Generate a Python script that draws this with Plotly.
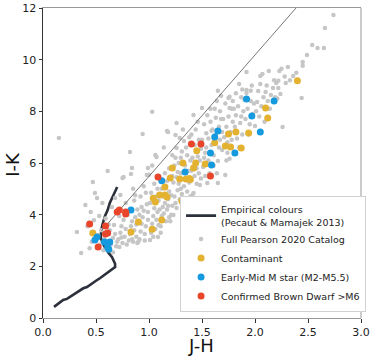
import plotly.graph_objects as go

# Empirical colour sequence (Pecaut & Mamajek 2013), J-H vs I-K
emp_jh = [0.104, 0.13, 0.16, 0.19, 0.226, 0.25, 0.283, 0.32, 0.349, 0.38, 0.415, 0.44, 0.47, 0.50,
          0.54, 0.57, 0.60, 0.63, 0.65, 0.67, 0.68, 0.68, 0.665, 0.65, 0.62, 0.60, 0.575, 0.555,
          0.545, 0.55, 0.56, 0.585, 0.61, 0.63, 0.66, 0.70]
emp_ik = [0.43, 0.52, 0.62, 0.70, 0.74, 0.80, 0.89, 0.98, 1.08, 1.15, 1.20, 1.28, 1.35, 1.44,
          1.55, 1.64, 1.74, 1.80, 1.86, 1.92, 1.97, 2.10, 2.22, 2.36, 2.51, 2.62, 2.80, 2.98,
          3.14, 3.40, 3.60, 3.95, 4.18, 4.45, 4.70, 5.07]

# reference line drawn across the diagram
ref_jh = [0.55, 2.387]
ref_ik = [3.37, 12.0]

# Full Pearson 2020 catalog
gray_pts = [
    (0.15, 6.97), (0.32, 3.33), (0.36, 2.52),
    (0.40, 4.37), (0.45, 4.10), (0.47, 5.26), (0.42, 3.55), (0.46, 2.95), (0.44, 2.70), (0.48, 3.78),
    (0.49, 4.84), (0.51, 4.65), (0.56, 4.45), (0.53, 3.95), (0.55, 3.40), (0.57, 2.62), (0.54, 2.85),
    (0.58, 3.05), (0.52, 3.20), (0.59, 3.85), (0.61, 5.69),
    (0.62, 2.70), (0.64, 2.85), (0.66, 3.10), (0.63, 3.40), (0.67, 3.60), (0.65, 4.30), (0.68, 4.65),
    (0.66, 2.55), (0.69, 2.78), (0.62, 3.62), (0.68, 3.25), (0.70, 2.95),
    (0.71, 3.05), (0.72, 2.75), (0.73, 3.30), (0.74, 3.55), (0.75, 2.90), (0.76, 3.80), (0.73, 4.76),
    (0.75, 5.42), (0.77, 3.15), (0.78, 3.45), (0.79, 2.85), (0.76, 5.46), (0.72, 3.95), (0.78, 4.45),
    (0.74, 3.12),
    (0.81, 3.00), (0.82, 3.25), (0.83, 3.55), (0.84, 3.75), (0.85, 2.95), (0.86, 3.40), (0.87, 3.90),
    (0.88, 3.15), (0.89, 4.20), (0.82, 6.43), (0.84, 5.81), (0.83, 5.57), (0.85, 5.00), (0.86, 4.55),
    (0.88, 3.62), (0.80, 4.00), (0.89, 2.90), (0.84, 3.05), (0.87, 4.75),
    (0.91, 3.05), (0.92, 3.35), (0.93, 3.65), (0.94, 3.90), (0.95, 4.15), (0.96, 3.25), (0.97, 3.55),
    (0.98, 4.40), (0.99, 3.80), (0.94, 7.12), (0.99, 5.81), (0.98, 5.54), (0.92, 4.70), (0.95, 5.10),
    (0.97, 4.85), (0.90, 2.95), (0.96, 3.00), (0.93, 4.30), (0.99, 4.10), (0.91, 4.00),
    (1.01, 3.02), (1.02, 3.30), (1.03, 3.65), (1.04, 3.95), (1.05, 4.25), (1.06, 3.45), (1.07, 3.80),
    (1.08, 4.10), (1.09, 4.55), (1.03, 7.98), (1.06, 6.31), (1.07, 6.23), (1.085, 3.14), (1.02, 4.85),
    (1.05, 5.20), (1.08, 5.00), (1.01, 4.45), (1.04, 3.15), (1.09, 3.60), (1.06, 4.70), (1.00, 5.55),
    (1.03, 5.90),
    (1.11, 3.55), (1.12, 3.95), (1.13, 4.30), (1.14, 4.05), (1.15, 4.45), (1.16, 3.75), (1.17, 4.20),
    (1.18, 4.60), (1.19, 4.90), (1.18, 7.20), (1.12, 5.00), (1.15, 5.60), (1.17, 5.30), (1.19, 3.90),
    (1.13, 4.70), (1.16, 5.10), (1.11, 3.30), (1.14, 6.60), (1.19, 5.80), (1.10, 4.20), (1.18, 4.35),
    (1.17, 7.24),
    (1.21, 4.00), (1.22, 4.35), (1.23, 3.99), (1.24, 4.70), (1.25, 4.45), (1.26, 4.26), (1.27, 4.95),
    (1.28, 5.20), (1.29, 6.97), (1.26, 6.58), (1.22, 5.50), (1.24, 5.90), (1.27, 5.65), (1.29, 4.60),
    (1.21, 4.75), (1.23, 5.25), (1.25, 6.20), (1.28, 6.00), (1.20, 3.75), (1.30, 5.00), (1.26, 5.45),
    (1.22, 6.30), (1.26, 7.55), (1.25, 7.08),
    (1.31, 4.80), (1.32, 4.26), (1.33, 5.10), (1.34, 4.57), (1.35, 5.40), (1.36, 4.90), (1.37, 5.70),
    (1.38, 5.25), (1.39, 6.10), (1.31, 6.45), (1.33, 6.85), (1.36, 6.30), (1.38, 7.00), (1.34, 5.90),
    (1.30, 5.60), (1.39, 4.70), (1.35, 6.60), (1.32, 7.30), (1.37, 4.45), (1.30, 6.20),
    (1.41, 4.76), (1.42, 4.49), (1.42, 4.84), (1.43, 5.50), (1.44, 5.95), (1.45, 5.20), (1.46, 6.25),
    (1.47, 5.60), (1.48, 5.15), (1.49, 6.55), (1.40, 7.10), (1.44, 7.30), (1.47, 6.90), (1.45, 5.80),
    (1.41, 6.20), (1.48, 6.10), (1.43, 6.70), (1.49, 5.40), (1.46, 7.60), (1.40, 5.70), (1.42, 7.86),
    (1.51, 5.85), (1.52, 6.20), (1.53, 5.50), (1.54, 6.60), (1.55, 5.23), (1.56, 6.95), (1.57, 6.40),
    (1.58, 5.90), (1.59, 7.25), (1.52, 7.50), (1.55, 7.85), (1.58, 7.60), (1.50, 6.90), (1.53, 6.40),
    (1.56, 6.10), (1.59, 6.70), (1.54, 7.15), (1.57, 5.60), (1.50, 8.13), (1.58, 8.10),
    (1.61, 6.30), (1.62, 6.75), (1.63, 7.10), (1.64, 5.60), (1.65, 5.23), (1.65, 6.08), (1.66, 7.40),
    (1.67, 6.90), (1.68, 7.70), (1.69, 6.50), (1.62, 8.10), (1.64, 8.40), (1.67, 8.00), (1.60, 7.30),
    (1.66, 6.60), (1.69, 7.20), (1.63, 7.75), (1.68, 8.60), (1.61, 5.90), (1.65, 8.80),
    (1.71, 7.00), (1.72, 5.54), (1.73, 7.40), (1.74, 6.80), (1.75, 7.80), (1.76, 6.16), (1.76, 8.56),
    (1.77, 7.20), (1.78, 8.10), (1.79, 7.60), (1.72, 8.30), (1.74, 6.40), (1.78, 6.90), (1.70, 7.70),
    (1.75, 8.52), (1.73, 6.10), (1.79, 8.40), (1.76, 8.13),
    (1.81, 7.40), (1.82, 7.85), (1.83, 6.95), (1.84, 8.20), (1.85, 9.06), (1.86, 7.55), (1.87, 8.55),
    (1.88, 7.10), (1.89, 8.00), (1.82, 8.70), (1.85, 6.60), (1.80, 8.10), (1.87, 7.80), (1.88, 8.85),
    (1.91, 7.70), (1.92, 8.83), (1.92, 8.71), (1.92, 9.52), (1.93, 8.10), (1.95, 7.50), (1.96, 8.40),
    (1.97, 9.00), (1.98, 7.90), (1.99, 8.30), (1.94, 7.10), (1.90, 8.45), (1.96, 8.80),
    (2.00, 7.43), (2.02, 8.36), (2.03, 8.79), (2.05, 9.06), (2.05, 9.37), (2.07, 9.45), (2.04, 7.80),
    (2.06, 8.20), (2.08, 8.55), (2.10, 8.75), (2.01, 8.00), (2.09, 7.60),
    (2.13, 9.56), (2.15, 8.63), (2.12, 8.40), (2.17, 8.90), (2.18, 9.20), (2.14, 8.10), (2.19, 8.55),
    (2.11, 9.00),
    (2.20, 9.10), (2.22, 9.18), (2.22, 8.90), (2.23, 9.56), (2.24, 8.67), (2.25, 9.65), (2.26, 7.39),
    (2.28, 9.35), (2.29, 9.10), (2.21, 8.50),
    (2.31, 9.72), (2.36, 9.37), (2.39, 9.49), (2.44, 8.52), (2.45, 9.91), (2.45, 9.76), (2.49, 10.18),
    (2.54, 10.57), (2.59, 10.45), (2.65, 10.45), (2.66, 11.23), (2.74, 11.73), (2.33, 9.20),
]
gray_jh = [p[0] for p in gray_pts]
gray_ik = [p[1] for p in gray_pts]

# Contaminants
cont_jh = [2.40, 2.10, 2.12, 1.82, 1.75, 1.94, 1.62, 1.72, 1.77, 1.87, 1.45, 1.32, 1.44, 1.53,
           1.42, 1.22, 1.20, 1.29, 1.35, 1.39, 1.15, 1.15, 1.31, 1.12, 1.10, 1.17, 1.04, 1.06,
           0.90, 1.03, 0.83, 0.47, 1.38]
cont_ik = [9.18, 8.13, 7.74, 7.20, 7.12, 7.16, 6.78, 6.66, 6.62, 6.58, 6.47, 6.00, 6.00, 5.96,
           5.81, 5.81, 5.42, 5.38, 5.38, 5.36, 5.07, 4.76, 4.53, 3.79, 4.76, 4.68, 4.64, 4.49,
           3.72, 3.44, 3.33, 3.29, 5.40]

# Early-Mid M stars (M2-M5.5)
mstar_jh = [1.92, 2.18, 1.97, 1.65, 2.05, 1.62, 1.81, 1.58, 1.59, 1.34, 1.12, 0.83, 0.51, 0.49,
            0.58, 0.63, 0.61, 0.62]
mstar_ik = [8.48, 8.40, 7.82, 7.24, 7.20, 7.01, 6.39, 6.39, 5.92, 5.65, 5.31, 4.18, 3.14, 3.02,
            2.94, 2.94, 2.75, 2.66]

# Confirmed brown dwarfs > M6
bd_jh = [1.40, 1.49, 1.58, 1.085, 0.70, 0.72, 0.78, 0.78, 0.44, 0.59, 0.61, 0.59, 0.52]
bd_ik = [6.74, 6.74, 5.50, 5.46, 4.10, 4.18, 4.10, 4.03, 3.64, 3.56, 3.29, 3.25, 2.75]

FONT = "DejaVu Sans"

fig = go.Figure()

fig.add_trace(
    go.Scatter(
        x=emp_jh, y=emp_ik, mode="lines",
        line=dict(color="#2b303b", width=2.6),
        name="Empirical colours<br>(Pecaut & Mamajek 2013)",
    )
)
fig.add_trace(
    go.Scatter(
        x=gray_jh, y=gray_ik, mode="markers",
        marker=dict(color="#c6c6c6", size=4.5),
        name="Full Pearson 2020 Catalog",
    )
)
fig.add_trace(
    go.Scatter(
        x=ref_jh, y=ref_ik, mode="lines",
        line=dict(color="#555555", width=0.8),
        showlegend=False,
    )
)
fig.add_trace(
    go.Scatter(
        x=cont_jh, y=cont_ik, mode="markers",
        marker=dict(color="#e3b230", size=7),
        name="Contaminant",
    )
)
fig.add_trace(
    go.Scatter(
        x=mstar_jh, y=mstar_ik, mode="markers",
        marker=dict(color="#159ae0", size=7),
        name="Early-Mid M star (M2-M5.5)",
    )
)
fig.add_trace(
    go.Scatter(
        x=bd_jh, y=bd_ik, mode="markers",
        marker=dict(color="#e8452b", size=7),
        name="Confirmed Brown Dwarf >M6",
    )
)

fig.update_xaxes(
    range=[0, 3], dtick=0.5, tickformat=".1f", automargin=False,
    showgrid=False, zeroline=False,
    showline=True, linecolor="#999999", linewidth=1, mirror=True,
    ticks="outside", ticklen=3.5, tickcolor="#333333",
    tickfont=dict(family=FONT, size=11, color="#222222"),
)
fig.update_yaxes(
    range=[0, 12], dtick=2, automargin=False,
    showgrid=False, zeroline=False,
    showline=True, linecolor="#333333", linewidth=1,
    ticks="outside", ticklen=3.5, tickcolor="#333333",
    tickfont=dict(family=FONT, size=11, color="#222222"),
)

# axis titles as annotations so they sit where the original put them
fig.add_annotation(text="J-H", xref="paper", yref="paper", x=0.497, y=-0.088,
                   showarrow=False, yanchor="middle",
                   font=dict(family=FONT, size=18, color="#111111"))
fig.add_annotation(text="I-K", xref="paper", yref="paper", x=-0.097, y=0.495,
                   showarrow=False, textangle=-90, xanchor="center",
                   font=dict(family=FONT, size=18, color="#111111"))

# right-hand frame edge in light grey
fig.add_shape(type="line", xref="paper", yref="paper", x0=1, x1=1, y0=0, y1=1,
              line=dict(color="#999999", width=1))

fig.update_layout(
    width=374, height=357,
    margin=dict(l=43, r=13, t=8, b=39),
    plot_bgcolor="white", paper_bgcolor="white",
    font=dict(family=FONT, size=10, color="#222222"),
    legend=dict(
        x=0.431, y=0.02, xanchor="left", yanchor="bottom",
        bgcolor="white", bordercolor="#d0d0d0", borderwidth=1,
        font=dict(family=FONT, size=9.5, color="#222222"),
        tracegroupgap=0, itemwidth=30,
    ),
)

# drop the browser's default body margin so the figure sits at the page corner
fig.write_html(
    "out.html",
    config=dict(displayModeBar=False),
    post_script="document.body.style.margin = '0';",
)
